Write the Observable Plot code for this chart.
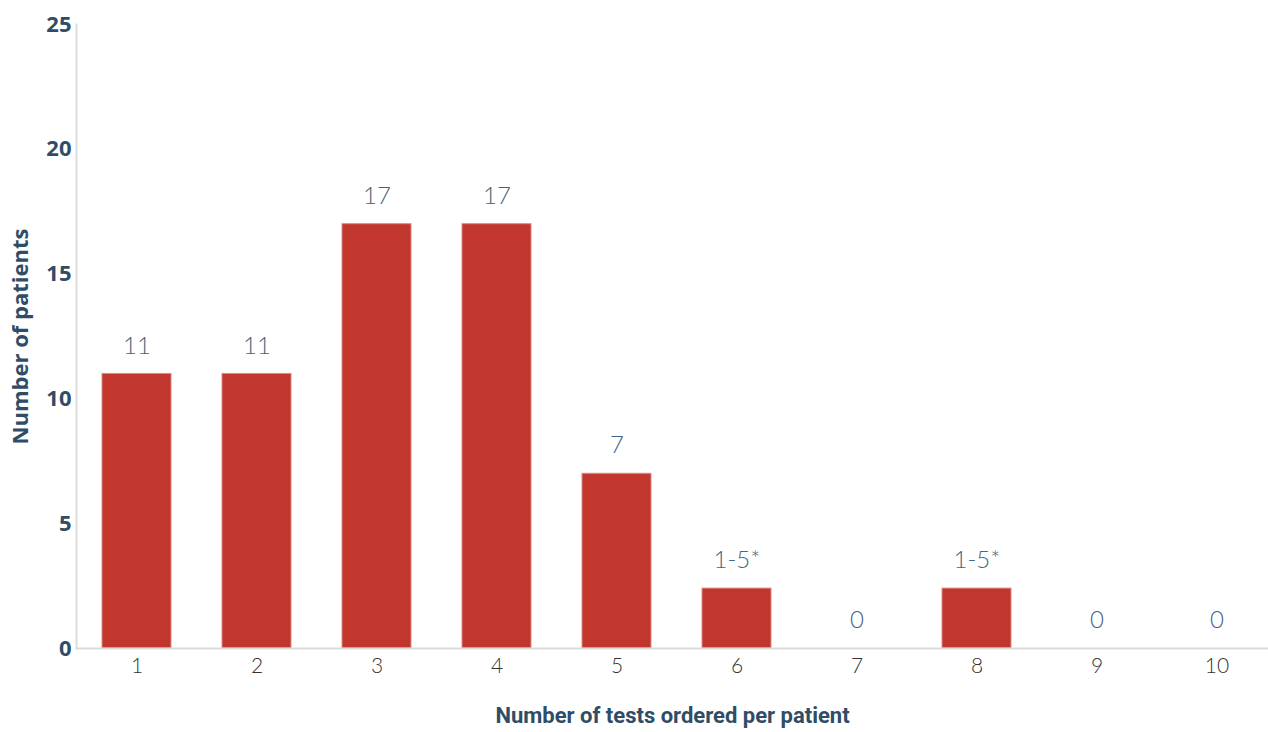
<!DOCTYPE html>
<html>
<head>
<meta charset="utf-8">
<script src="https://cdn.jsdelivr.net/npm/d3@7"></script>
<script src="https://cdn.jsdelivr.net/npm/@observablehq/plot@0.6"></script>
<style>
  html, body { margin: 0; padding: 0; background: #fff; }
  #chart svg { display: block; }
</style>
</head>
<body>
<div id="chart"></div>
<script>
const categories = ["1", "2", "3", "4", "5", "6", "7", "8", "9", "10"];
const counts = [11, 11, 17, 17, 7, 2.4, 0, 2.4, 0, 0];
const valueLabels = ["11", "11", "17", "17", "7", "1-5*", "0", "1-5*", "0", "0"];
const yTicks = [0, 5, 10, 15, 20, 25];

const data = categories.map((c, i) => ({cat: c, value: counts[i], label: valueLabels[i]}));

const chart = Plot.plot({
  width: 1268,
  height: 732,
  marginTop: 24,
  marginBottom: 84,
  marginLeft: 76,
  marginRight: 0,
  style: {background: "#fff", overflow: "visible"},
  x: {domain: categories, range: [76, 1276], paddingInner: 0.425, paddingOuter: 0.2125, label: null},
  y: {domain: [0, 25], label: null},
  marks: [
    Plot.barY(data, {x: "cat", y: "value", fill: "#c1372d", stroke: "#e08a84", strokeWidth: 1}),
    Plot.frame({anchor: "bottom", stroke: "#dcdcdc", strokeWidth: 2}),
    Plot.frame({anchor: "left", stroke: "#dcdcdc", strokeWidth: 2}),
    Plot.text(data, {x: "cat", y: "value", text: "label", dy: -28, fill: "#46637f",
      fontSize: 24, fontWeight: 300, fontFamily: "Lato, 'Open Sans', sans-serif"}),
    Plot.axisX({tickSize: 0, tickPadding: 10, fontSize: 21, fill: "#333",
      fontFamily: "Lato, 'Open Sans', sans-serif", fontWeight: 300, label: null}),
    Plot.axisY(yTicks, {tickSize: 0, tickPadding: 5, fontSize: 22, fontWeight: 700, fill: "#2f4d66",
      fontFamily: "'Open Sans', Lato, sans-serif", label: null}),
    Plot.text(["Number of tests ordered per patient"], {
      frameAnchor: "bottom", dy: 74, fill: "#2f4d66",
      fontSize: 22, fontWeight: 700, fontFamily: "Roboto, sans-serif",
      textAnchor: "middle", lineAnchor: "bottom"}),
    Plot.text(["Number of patients"], {
      frameAnchor: "left", dx: -56, rotate: -90, fill: "#2f4d66",
      fontSize: 22, fontWeight: 700, fontFamily: "'Open Sans', Lato, sans-serif",
      letterSpacing: "3px", textAnchor: "middle"})
  ]
});

document.getElementById("chart").appendChild(chart);
</script>
</body>
</html>
